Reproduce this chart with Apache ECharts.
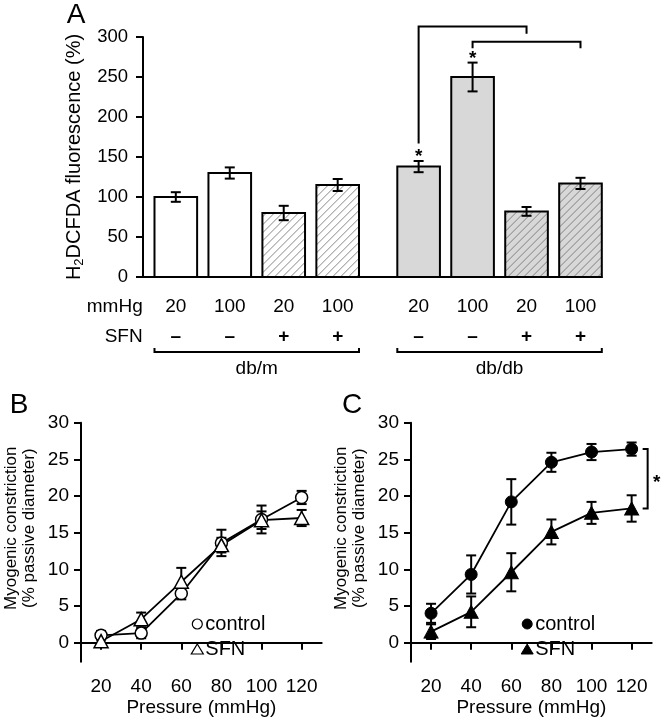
<!DOCTYPE html>
<html><head><meta charset="utf-8">
<script src="https://cdn.jsdelivr.net/npm/echarts@6/dist/echarts.min.js"></script>
<style>html,body{margin:0;padding:0;background:#fff}#c{width:661px;height:720px}</style>
</head><body><div id="c"></div>
<script>
// ---------- Panel A data ----------
const aPositions = [1, 2, 3, 4, 5.5, 6.5, 7.5, 8.5];
const aPressure  = ['20', '100', '20', '100', '20', '100', '20', '100'];
const aSFN       = ['–', '–', '+', '+', '–', '–', '+', '+'];
const aGenotype  = ['db/m', 'db/m', 'db/m', 'db/m', 'db/db', 'db/db', 'db/db', 'db/db'];
const aValues    = [100, 130, 80, 115, 138, 250, 82, 117];
const aErrors    = [6, 7, 9, 7.5, 7, 18, 5.5, 7];
const aStarBars  = [4, 5];
// significance brackets: [fromPos, toPos, topValue, leftLegEndValue, rightLegEndValue]
const aBrackets  = [[5.5, 7.5, 313, 167, 304], [6.5, 8.5, 294, 286, 286]];
const aYTicks    = [0, 50, 100, 150, 200, 250, 300];

// ---------- Panels B / C data ----------
const pressure     = [20, 40, 60, 80, 100, 120];
const bControl     = [1.0, 1.3, 6.7, 13.6, 16.8, 19.8];
const bControlErr  = [0.6, 0.7, 0.8, 1.8, 1.9, 0.9];
const bSFN         = [0.2, 3.2, 8.3, 13.3, 16.7, 17.0];
const bSFNErr      = [0.5, 0.9, 1.9, 1.0, 1.2, 1.1];
const cControl     = [4.0, 9.3, 19.2, 24.6, 26.0, 26.4];
const cControlErr  = [1.3, 2.6, 3.1, 1.3, 1.1, 0.9];
const cSFN         = [1.5, 4.2, 9.6, 15.1, 17.7, 18.3];
const cSFNErr      = [1.0, 2.1, 2.6, 1.7, 1.5, 1.8];
const bcYTicks     = [0, 5, 10, 15, 20, 25, 30];

// ---------- styling / layout ----------
const FONT = '"Liberation Sans", Arial, Helvetica, sans-serif';
const BAR_W = 0.79;
const chart = echarts.init(document.getElementById('c'), null, {renderer: 'canvas'});

function renderBar(params, api) {
  const x = api.value(0), v = api.value(1), e = api.value(2), i = api.value(3);
  const tl = api.coord([x - BAR_W / 2, v]);
  const br = api.coord([x + BAR_W / 2, 0]);
  const rx = tl[0], ry = tl[1], rw = br[0] - tl[0], rh = br[1] - tl[1];
  const ch = [];
  ch.push({type: 'rect', shape: {x: rx, y: ry, width: rw, height: rh},
    style: {fill: aGenotype[i] === 'db/db' ? '#d8d8d8' : '#ffffff', stroke: 'none'}});
  if (aSFN[i] === '+') {
    const s = 8;
    const cMin = rx + ry, cMax = rx + rw + ry + rh;
    for (let c = cMin + s / 2; c < cMax; c += s) {
      const xa = Math.max(rx, c - (ry + rh));
      const xb = Math.min(rx + rw, c - ry);
      if (xb <= xa) continue;
      ch.push({type: 'line', shape: {x1: xa, y1: c - xa, x2: xb, y2: c - xb},
        style: {stroke: '#6a6a6a', lineWidth: 0.8}});
    }
  }
  ch.push({type: 'rect', shape: {x: rx, y: ry, width: rw, height: rh},
    style: {fill: 'none', stroke: '#000', lineWidth: 2}});
  const cx = api.coord([x, v])[0];
  const yt = api.coord([x, v + e])[1];
  const yb = api.coord([x, v - e])[1];
  const cap = 5;
  const es = {stroke: '#000', lineWidth: 2};
  ch.push({type: 'line', shape: {x1: cx, y1: yt, x2: cx, y2: yb}, style: es});
  ch.push({type: 'line', shape: {x1: cx - cap, y1: yt, x2: cx + cap, y2: yt}, style: es});
  ch.push({type: 'line', shape: {x1: cx - cap, y1: yb, x2: cx + cap, y2: yb}, style: es});
  if (aStarBars.indexOf(i) >= 0) {
    ch.push({type: 'text', x: cx, y: yt - 4,
      style: {text: '*', fill: '#000', font: 'bold 19px ' + FONT, align: 'center', verticalAlign: 'middle'}});
  }
  return {type: 'group', children: ch};
}

function renderBracket(params, api) {
  const x0 = api.coord([api.value(0), 0])[0];
  const x1 = api.coord([api.value(1), 0])[0];
  const yTop = api.coord([0, api.value(2)])[1];
  const yL = api.coord([0, api.value(3)])[1];
  const yR = api.coord([0, api.value(4)])[1];
  return {type: 'polyline', shape: {points: [[x0, yL], [x0, yTop], [x1, yTop], [x1, yR]]},
    style: {stroke: '#000', lineWidth: 2, fill: 'none'}};
}

// groups (db/m, db/db) built from genotype list
const groupNames = [];
const groupData = [];
aGenotype.forEach((g, i) => {
  let k = groupNames.indexOf(g);
  if (k < 0) { groupNames.push(g); groupData.push([aPositions[i], aPositions[i], groupNames.length - 1]); }
  else groupData[k][1] = aPositions[i];
});

function renderGroup(params, api) {
  const x0 = api.coord([api.value(0) - BAR_W / 2, 0])[0];
  const x1 = api.coord([api.value(1) + BAR_W / 2, 0])[0];
  const y0 = api.coord([api.value(0), 0])[1];
  const ly = y0 + 75;
  return {type: 'group', children: [
    {type: 'polyline', shape: {points: [[x0, ly - 4], [x0, ly], [x1, ly], [x1, ly - 4]]},
      style: {stroke: '#000', lineWidth: 2, fill: 'none'}},
    {type: 'text', x: (x0 + x1) / 2, y: y0 + 92,
      style: {text: groupNames[api.value(2)], fill: '#000', font: '19px ' + FONT, align: 'center', verticalAlign: 'middle'}}
  ]};
}

function renderErr(params, api) {
  const x = api.value(0), v = api.value(1), e = api.value(2);
  const cx = api.coord([x, v])[0];
  const yt = api.coord([x, v + e])[1];
  const yb = api.coord([x, v - e])[1];
  const cap = 5;
  const es = {stroke: '#000', lineWidth: 2};
  return {type: 'group', children: [
    {type: 'line', shape: {x1: cx, y1: yt, x2: cx, y2: yb}, style: es},
    {type: 'line', shape: {x1: cx - cap, y1: yt, x2: cx + cap, y2: yt}, style: es},
    {type: 'line', shape: {x1: cx - cap, y1: yb, x2: cx + cap, y2: yb}, style: es}
  ]};
}

function renderSig(params, api) {
  const x = api.value(0);
  const p1 = api.coord([x, api.value(1)]);
  const p2 = api.coord([x, api.value(2)]);
  const xr = p1[0] + 16;
  return {type: 'group', children: [
    {type: 'polyline', shape: {points: [[xr - 5, p1[1]], [xr, p1[1]], [xr, p2[1]], [xr - 5, p2[1]]]},
      style: {stroke: '#000', lineWidth: 2, fill: 'none'}},
    {type: 'text', x: xr + 9, y: (p1[1] + p2[1]) / 2 + 4,
      style: {text: '*', fill: '#000', font: 'bold 19px ' + FONT, align: 'center', verticalAlign: 'middle'}}
  ]};
}

const axisLineStyle = {show: true, lineStyle: {color: '#000', width: 2}};
const tickStyle = {show: true, inside: false, length: 7, lineStyle: {color: '#000', width: 2}};

function bcXAxis(idx) {
  return {type: 'value', gridIndex: idx, min: 10, max: 130,
    axisLine: axisLineStyle, splitLine: {show: false},
    axisTick: Object.assign({}, tickStyle, {customValues: pressure}),
    axisLabel: {customValues: pressure, color: '#000', fontSize: 19, fontFamily: FONT, margin: 16},
    name: 'Pressure (mmHg)', nameLocation: 'middle', nameGap: 37,
    nameTextStyle: {color: '#000', fontSize: 19, fontFamily: FONT}};
}
function bcYAxis(idx) {
  return {type: 'value', gridIndex: idx, min: -2.6, max: 30,
    axisLine: axisLineStyle, splitLine: {show: false},
    axisTick: Object.assign({}, tickStyle, {customValues: bcYTicks}),
    axisLabel: {customValues: bcYTicks, color: '#000', fontSize: 19, fontFamily: FONT, margin: 12},
    name: 'Myogenic constriction\n(% passive diameter)', nameLocation: 'middle', nameGap: 43,
    nameTextStyle: {color: '#000', fontSize: 17, lineHeight: 18, fontFamily: FONT, padding: [0, 0, 0, 28]}};
}

function lineSeries(name, ax, xs, ys) {
  return {type: 'line', name: name, xAxisIndex: ax, yAxisIndex: ax, z: 3,
    data: xs.map((x, i) => [x, ys[i]]), symbol: 'none',
    lineStyle: {color: '#000', width: 1.8}, silent: true};
}
function markSeries(name, ax, xs, ys, sym, size, filled) {
  return {type: 'scatter', name: name, xAxisIndex: ax, yAxisIndex: ax, z: 4,
    data: xs.map((x, i) => [x, ys[i]]), symbol: sym, symbolSize: size,
    itemStyle: filled ? {color: '#000', borderColor: '#000', borderWidth: 1, opacity: 1}
                      : {color: '#fff', borderColor: '#000', borderWidth: 1.5, opacity: 1}};
}
function errSeries(ax, xs, ys, es) {
  return {type: 'custom', xAxisIndex: ax, yAxisIndex: ax, z: 2, clip: false,
    data: xs.map((x, i) => [x, ys[i], es[i]]), renderItem: renderErr,
    encode: {x: 0, y: 1}};
}

function legendFor(names, left, style) {
  return {orient: 'vertical', left: left, top: 614, padding: 0, itemGap: 5, itemWidth: 12, itemHeight: 10,
    data: [{name: names[0], icon: 'circle'}, {name: names[1], icon: 'triangle'}],
    formatter: n => n.split('_')[0], selectedMode: false,
    itemStyle: style,
    textStyle: {fontSize: 20, fontFamily: FONT, color: '#000', padding: [0, 0, 0, -3]}};
}

const option = {
  animation: false,
  backgroundColor: '#fff',
  textStyle: {fontFamily: FONT, color: '#000'},
  grid: [
    {left: 143, top: 37, width: 458.7, height: 240, containLabel: false, outerBoundsMode: 'none'},
    {left: 81, top: 422.7, width: 240.7, height: 239, containLabel: false, outerBoundsMode: 'none'},
    {left: 411, top: 422.7, width: 240.7, height: 239, containLabel: false, outerBoundsMode: 'none'}
  ],
  xAxis: [
    {type: 'value', gridIndex: 0, min: 0.392, max: 8.893,
      axisLine: axisLineStyle, axisTick: {show: false}, splitLine: {show: false},
      axisLabel: {customValues: aPositions, margin: 14.7, color: '#000',
        formatter: function (v) {
          const i = aPositions.indexOf(v);
          return '{p|' + aPressure[i] + '}\n{s|' + aSFN[i] + '}';
        },
        rich: {p: {fontSize: 19, lineHeight: 30, fontFamily: FONT, color: '#000'},
               s: {fontSize: 19, lineHeight: 30, fontFamily: FONT, fontWeight: 'bold', color: '#000'}}}},
    bcXAxis(1), bcXAxis(2)
  ],
  yAxis: [
    {type: 'value', gridIndex: 0, min: 0, max: 300,
      axisLine: axisLineStyle, splitLine: {show: false},
      axisTick: Object.assign({}, tickStyle, {customValues: aYTicks}),
      axisLabel: {customValues: aYTicks, color: '#000', fontSize: 18.5, fontFamily: FONT, margin: 15},
      name: '{n|H}{s|2}{n|DCFDA fluorescence (%)}', nameLocation: 'middle', nameGap: 54,
      nameTextStyle: {rich: {
        n: {fontSize: 20, lineHeight: 24, fontFamily: FONT, color: '#000'},
        s: {fontSize: 13, lineHeight: 24, fontFamily: FONT, color: '#000', verticalAlign: 'bottom'}}}},
    bcYAxis(1), bcYAxis(2)
  ],
  legend: [
    legendFor(['control_B', 'SFN_B'], 190.7, {color: '#fff', borderColor: '#000', borderWidth: 1.2, opacity: 1}),
    legendFor(['control_C', 'SFN_C'], 520.7, {color: '#000', borderColor: '#000', borderWidth: 1, opacity: 1})
  ],
  graphic: [
    {type: 'text', x: 76, y: 15, style: {text: 'A', font: '28px ' + FONT, fill: '#000', align: 'center', verticalAlign: 'middle'}},
    {type: 'text', x: 19, y: 405, style: {text: 'B', font: '28px ' + FONT, fill: '#000', align: 'center', verticalAlign: 'middle'}},
    {type: 'text', x: 352, y: 405, style: {text: 'C', font: '28px ' + FONT, fill: '#000', align: 'center', verticalAlign: 'middle'}},
    {type: 'text', x: 142.7, y: 306.5, style: {text: 'mmHg', font: '19px ' + FONT, fill: '#000', align: 'right', verticalAlign: 'middle'}},
    {type: 'text', x: 142.7, y: 337, style: {text: 'SFN', font: '19px ' + FONT, fill: '#000', align: 'right', verticalAlign: 'middle'}}
  ],
  series: [
    {type: 'custom', name: 'bars', xAxisIndex: 0, yAxisIndex: 0, clip: false, z: 2,
      data: aPositions.map((p, i) => [p, aValues[i], aErrors[i], i]),
      renderItem: renderBar, encode: {x: 0, y: 1}},
    {type: 'custom', name: 'brackets', xAxisIndex: 0, yAxisIndex: 0, clip: false, z: 3,
      data: aBrackets, renderItem: renderBracket, encode: {x: [0, 1], y: 2}},
    {type: 'custom', name: 'groups', xAxisIndex: 0, yAxisIndex: 0, clip: false, z: 3,
      data: groupData, renderItem: renderGroup, encode: {x: [0, 1]}},

    errSeries(1, pressure, bControl, bControlErr),
    errSeries(1, pressure, bSFN, bSFNErr),
    lineSeries('lineB1', 1, pressure, bControl),
    lineSeries('lineB2', 1, pressure, bSFN),
    markSeries('control_B', 1, pressure, bControl, 'circle', 12, false),
    markSeries('SFN_B', 1, pressure, bSFN, 'triangle', [14, 13], false),

    errSeries(2, pressure, cControl, cControlErr),
    errSeries(2, pressure, cSFN, cSFNErr),
    lineSeries('lineC1', 2, pressure, cControl),
    lineSeries('lineC2', 2, pressure, cSFN),
    markSeries('control_C', 2, pressure, cControl, 'circle', 12, true),
    markSeries('SFN_C', 2, pressure, cSFN, 'triangle', [14, 13], true),
    {type: 'custom', name: 'sigC', xAxisIndex: 2, yAxisIndex: 2, clip: false, z: 3,
      data: [[pressure[5], cControl[5], cSFN[5]]], renderItem: renderSig, encode: {x: 0, y: [1, 2]}}
  ]
};
chart.setOption(option);
</script>
</body></html>
